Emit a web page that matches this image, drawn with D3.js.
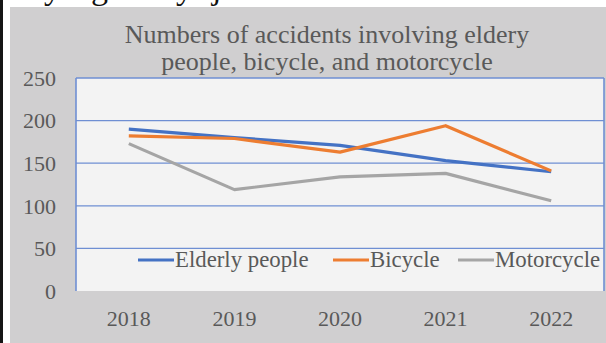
<!DOCTYPE html>
<html>
<head>
<meta charset="utf-8">
<script src="https://cdn.jsdelivr.net/npm/d3@7"></script>
<style>
  html, body { margin: 0; padding: 0; background: #ffffff; }
  svg { display: block; }
  svg text { font-family: "Liberation Serif", Tinos, "Times New Roman", "DejaVu Serif", serif; }
</style>
</head>
<body>
<svg id="chart" width="606" height="343"></svg>
<script>
// Accident counts per year
const years = ["2018", "2019", "2020", "2021", "2022"];
const elderly = [190, 180, 171, 153, 140];
const bicycle = [182, 179, 163, 194, 141];
const motorcycle = [173, 119, 134, 138, 106];
const seriesNames = ["Elderly people", "Bicycle", "Motorcycle"];
const yTicks = [0, 50, 100, 150, 200, 250];
const titleLines = ["Numbers of accidents involving eldery", "people, bicycle, and motorcycle"];

const series = [
  { name: seriesNames[0], values: elderly, color: "#4472c4" },
  { name: seriesNames[1], values: bicycle, color: "#ed7d31" },
  { name: seriesNames[2], values: motorcycle, color: "#a5a5a5" }
];

const W = 606, H = 343;
const plot = { left: 76, right: 604, top: 78, bottom: 291 };
const textColor = "#595959";
const gridColor = "#6f8fd3";

const svg = d3.select("#chart");

// page edge: dark strip on the left, white margin, then the grey chart panel
svg.append("rect").attr("x", 0).attr("y", 0).attr("width", W).attr("height", H).attr("fill", "#ffffff");
svg.append("rect").attr("x", 0).attr("y", 0).attr("width", 3).attr("height", H).attr("fill", "#151515");

// tail end of the line of text above the chart
const clip = svg.append("defs").append("clipPath").attr("id", "topclip");
clip.append("rect").attr("x", 0).attr("y", 0).attr("width", W).attr("height", 7);
const topText = svg.append("g").attr("clip-path", "url(#topclip)");
[["y", 44], ["g", 91], ["y", 176], ["j", 212]].forEach(([t, x]) => {
  topText.append("text").attr("x", x).attr("y", -1)
    .style("font-size", "34px").style("fill", "#111").text(t);
});

svg.append("rect").attr("x", 10).attr("y", 7).attr("width", W - 10).attr("height", H - 7).attr("fill", "#d0cfd0");

// scales
const x = d3.scaleBand().domain(years).range([plot.left, plot.right]);
const y = d3.scaleLinear().domain([0, 250]).range([plot.bottom, plot.top]);
const cx = d => x(d) + x.bandwidth() / 2;

// plot area
svg.append("rect")
  .attr("x", plot.left).attr("y", plot.top)
  .attr("width", plot.right - plot.left).attr("height", plot.bottom - plot.top)
  .attr("fill", "#f3f3f3");

// horizontal gridlines
svg.append("g").selectAll("line")
  .data(yTicks.filter(t => t > 0))
  .join("line")
  .attr("x1", plot.left).attr("x2", plot.right)
  .attr("y1", d => y(d)).attr("y2", d => y(d))
  .attr("stroke", gridColor).attr("stroke-width", 1.3);

// side borders of the plot area
[plot.left, plot.right].forEach(px => {
  svg.append("line")
    .attr("x1", px).attr("x2", px).attr("y1", plot.top).attr("y2", plot.bottom)
    .attr("stroke", gridColor).attr("stroke-width", 1.6);
});

// y axis labels
const yAxis = d3.axisLeft(y).tickValues(yTicks).tickSize(0).tickPadding(0);
const gy = svg.append("g").attr("transform", "translate(56,0)").call(yAxis)
  .attr("font-family", null).attr("font-size", null);
gy.select(".domain").remove();
gy.selectAll("text")
  .style("font-size", "22px").style("fill", textColor)
  .attr("dy", "0.33em");

// x axis labels
const xAxis = d3.axisBottom(x).tickSize(0).tickPadding(0);
const gx = svg.append("g").attr("transform", "translate(0,310)").call(xAxis)
  .attr("font-family", null).attr("font-size", null);
gx.select(".domain").remove();
gx.selectAll("text")
  .style("font-size", "22px").style("fill", textColor)
  .attr("dy", "0.71em");

// series lines
const line = d3.line().x((d, i) => cx(years[i])).y(d => y(d));
svg.append("g").selectAll("path")
  .data(series)
  .join("path")
  .attr("d", d => line(d.values))
  .attr("fill", "none")
  .attr("stroke", d => d.color)
  .attr("stroke-width", 3.2)
  .attr("stroke-linejoin", "round");

// title
svg.append("g").selectAll("text")
  .data(titleLines)
  .join("text")
  .attr("x", 327).attr("y", (d, i) => 43 + i * 26.5)
  .attr("text-anchor", "middle")
  .style("font-size", "26px").style("fill", textColor)
  .text(d => d);

// legend
const legendX = [138, 333, 458];
const legend = svg.append("g").selectAll("g")
  .data(series)
  .join("g")
  .attr("transform", (d, i) => `translate(${legendX[i]},260)`);
legend.append("line")
  .attr("x1", 0).attr("x2", 36).attr("y1", 0).attr("y2", 0)
  .attr("stroke", d => d.color).attr("stroke-width", 3.2);
legend.append("text")
  .attr("x", 37).attr("y", 7)
  .style("font-size", "22.8px").style("fill", textColor)
  .text(d => d.name);
</script>
</body>
</html>
